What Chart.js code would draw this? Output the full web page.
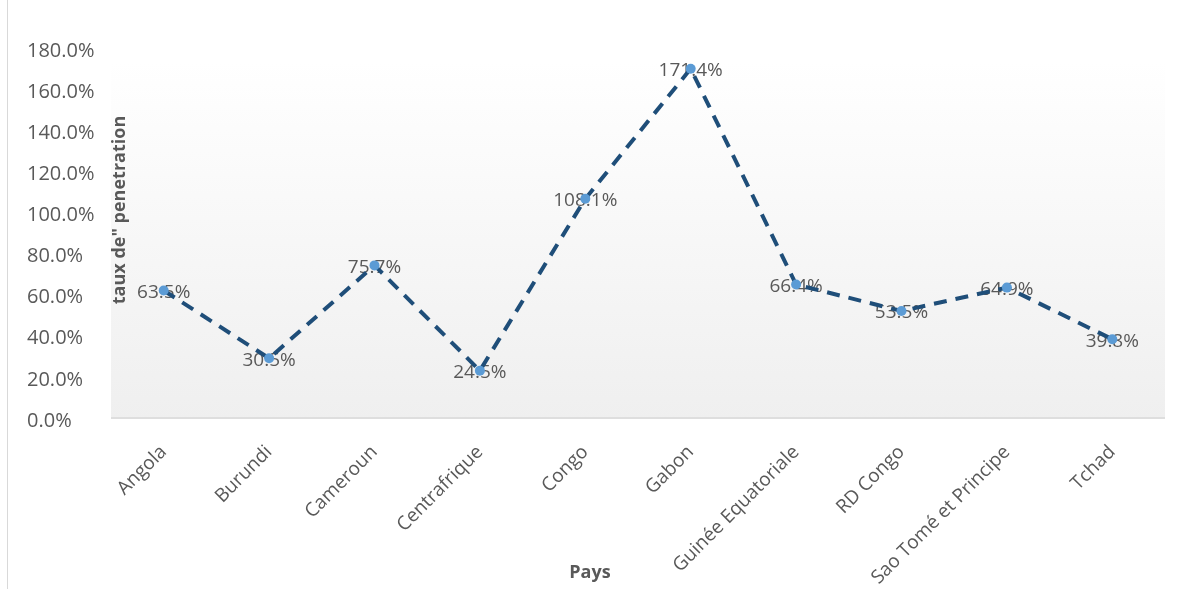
<!DOCTYPE html>
<html>
<head>
<meta charset="utf-8">
<script src="https://cdn.jsdelivr.net/npm/chart.js@4.4.0/dist/chart.umd.min.js"></script>
<style>
  html, body { margin: 0; padding: 0; background: #fff; }
  #wrap { position: relative; width: 1198px; height: 589px; }
  #wrap:before { content: ''; position: absolute; left: 7px; top: 0; bottom: 0; border-left: 1px solid #d9d9d9; }
</style>
</head>
<body>
<div id="wrap"><canvas id="chart" width="1198" height="589"></canvas></div>
<script>
// data
var pays = ["Angola", "Burundi", "Cameroun", "Centrafrique", "Congo", "Gabon",
  "Guinée Equatoriale", "RD Congo", "Sao Tomé et Principe", "Tchad"];
var taux = [63.5, 30.5, 75.7, 24.5, 108.1, 171.4, 66.4, 53.5, 64.9, 39.8];
var yTicks = [0, 20, 40, 60, 80, 100, 120, 140, 160, 180];

var gris = '#595959';
var police = '"Open Sans", sans-serif';

// fond dégradé + étiquettes + titres
var decor = {
  id: 'decor',
  beforeDraw: function(chart) {
    var c = chart.ctx, a = chart.chartArea;
    var g = c.createLinearGradient(0, a.top + 10, 0, a.bottom);
    g.addColorStop(0, '#ffffff');
    g.addColorStop(1, '#efefef');
    c.save();
    c.fillStyle = g;
    c.fillRect(a.left, a.top + 10, a.right - a.left, a.bottom - a.top - 12);
    c.strokeStyle = '#d9d9d9';
    c.lineWidth = 1.5;
    c.beginPath();
    c.moveTo(a.left, a.bottom - 3);
    c.lineTo(a.right, a.bottom - 3);
    c.stroke();
    c.restore();
  },
  beforeDatasetsDraw: function(chart) {
    var c = chart.ctx;
    var pts = chart.getDatasetMeta(0).data;
    c.save();
    c.font = '19px ' + police;
    c.fillStyle = gris;
    c.textAlign = 'center';
    c.textBaseline = 'middle';
    pts.forEach(function(p, i) {
      c.fillText(taux[i].toFixed(1) + '%', p.x, p.y + 2);
    });
    c.restore();
  },
  afterDraw: function(chart) {
    var c = chart.ctx;
    c.save();
    c.font = 'bold 18px ' + police;
    c.fillStyle = gris;
    c.textAlign = 'center';
    c.textBaseline = 'middle';
    c.fillText('Pays', 590, 573);
    c.translate(120, 210);
    c.rotate(-Math.PI / 2);
    c.fillText('taux de" penetration', 0, 0);
    c.restore();
  }
};

new Chart(document.getElementById('chart'), {
  type: 'line',
  data: {
    labels: pays,
    datasets: [{
      data: taux,
      borderColor: '#1f4e79',
      borderWidth: 4,
      borderDash: [13, 9],
      pointRadius: 5,
      pointBackgroundColor: '#5b9bd5',
      pointBorderColor: '#5b9bd5',
      pointBorderWidth: 0,
      tension: 0,
      fill: false
    }]
  },
  options: {
    responsive: false,
    animation: false,
    layout: { padding: { left: 27, right: 33, top: 51, bottom: 0 } },
    plugins: { legend: { display: false }, tooltip: { enabled: false } },
    scales: {
      x: {
        offset: true,
        grid: { display: false, drawTicks: false },
        border: { display: false },
        ticks: {
          color: gris,
          font: { family: police, size: 19 },
          minRotation: 45,
          maxRotation: 45,
          autoSkip: false,
          padding: 20
        },
        afterFit: function(s) { s.height = 168; }
      },
      y: {
        min: 0,
        max: 180,
        afterBuildTicks: function(s) { s.ticks = yTicks.map(function(v) { return { value: v }; }); },
        grid: { display: false, drawTicks: false },
        border: { display: false },
        ticks: {
          color: gris,
          crossAlign: 'far',
          font: { family: police, size: 20 },
          callback: function(v) { return v.toFixed(1) + '%'; }
        },
        afterFit: function(s) { s.width = 84; }
      }
    }
  },
  plugins: [decor]
});
</script>
</body>
</html>
